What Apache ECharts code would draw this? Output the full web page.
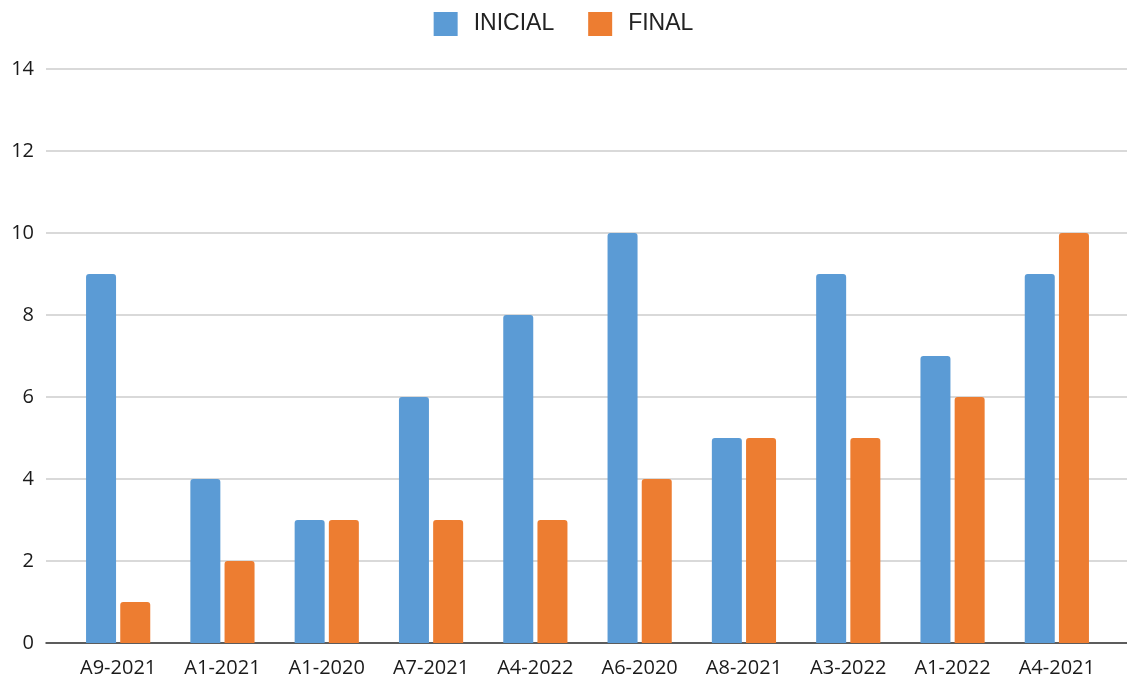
<!DOCTYPE html>
<html>
<head>
<meta charset="utf-8">
<title>INICIAL / FINAL</title>
<script src="https://cdn.jsdelivr.net/npm/echarts@6/dist/echarts.min.js"></script>
<style>
    html, body { margin: 0; padding: 0; background: #fff; }
    #main { width: 1127px; height: 683px; }
</style>
</head>
<body>
<div id="main"></div>
<script type="text/javascript">
    var categories = ['A9-2021', 'A1-2021', 'A1-2020', 'A7-2021', 'A4-2022', 'A6-2020', 'A8-2021', 'A3-2022', 'A1-2022', 'A4-2021'];
    var inicial = [9, 4, 3, 6, 8, 10, 5, 9, 7, 9];
    var final = [1, 2, 3, 3, 3, 4, 5, 5, 6, 10];
    var yTicks = [0, 2, 4, 6, 8, 10, 12, 14];

    var labelFont = '"Open Sans", "Noto Sans", sans-serif';
    var myChart = echarts.init(document.getElementById('main'));

    myChart.setOption({
        animation: false,
        legend: {
            top: 7,
            left: 'center',
            icon: 'rect',
            itemWidth: 24,
            itemHeight: 24,
            itemGap: 34,
            itemStyle: { borderRadius: 3 },
            textStyle: { fontSize: 23, color: '#222', fontFamily: '"Liberation Sans", Arial, sans-serif', padding: [0, 0, 0, 11] },
            data: ['INICIAL', 'FINAL']
        },
        // grid 0: gridlines + axis line across the full width; grid 1: the bars
        grid: [
            { left: 46, right: 0, top: 69, bottom: 40 },
            { left: 66, right: 18, top: 69, bottom: 40 }
        ],
        xAxis: [
            {
                gridIndex: 0, type: 'category', data: categories,
                axisLine: { lineStyle: { color: '#333', width: 1.5 } },
                axisTick: { show: false }, axisLabel: { show: false }
            },
            {
                gridIndex: 1, type: 'category', data: categories,
                axisLine: { show: false }, axisTick: { show: false },
                axisLabel: { color: '#1a1a1a', fontSize: 20, fontFamily: labelFont, margin: 15 }
            }
        ],
        yAxis: [
            {
                gridIndex: 0, type: 'value', min: yTicks[0], max: yTicks[yTicks.length - 1], interval: 2,
                axisLine: { show: false }, axisTick: { show: false },
                axisLabel: { color: '#1a1a1a', fontSize: 20, fontFamily: labelFont, margin: 12 },
                splitLine: { lineStyle: { color: '#cccccc', width: 1.5 } }
            },
            {
                gridIndex: 1, type: 'value', min: yTicks[0], max: yTicks[yTicks.length - 1], interval: 2,
                show: false, splitLine: { show: false }
            }
        ],
        series: [
            {
                name: 'INICIAL', type: 'bar', xAxisIndex: 1, yAxisIndex: 1,
                data: inicial, barWidth: 30, barGap: '14%',
                itemStyle: { color: '#5B9BD5', borderRadius: [3, 3, 0, 0] }
            },
            {
                name: 'FINAL', type: 'bar', xAxisIndex: 1, yAxisIndex: 1,
                data: final, barWidth: 30, barGap: '14%',
                itemStyle: { color: '#ED7D31', borderRadius: [3, 3, 0, 0] }
            }
        ]
    });
</script>
</body>
</html>
